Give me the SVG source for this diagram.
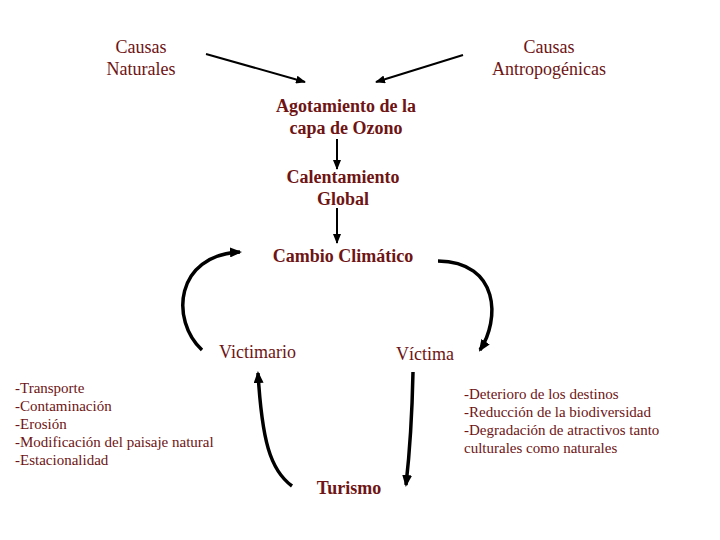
<svg xmlns="http://www.w3.org/2000/svg" width="720" height="540" viewBox="0 0 720 540">
<style>
text{font-family:'Liberation Serif','DejaVu Serif',serif;fill:#6e1414}
.n{font-size:18px}
.b{font-size:18px;font-weight:bold}
.l{font-size:15px}
.c{text-anchor:middle}
.s{stroke:#000;stroke-width:2;fill:none}
.k{stroke:#000;stroke-width:3.5;fill:none}
</style>
<defs>
<marker id="a" markerWidth="10" markerHeight="8" refX="9" refY="4" orient="auto" markerUnits="userSpaceOnUse"><path d="M0,0 L10,4 L0,8 Z" fill="#000"/></marker>
<marker id="a2" markerWidth="12" markerHeight="10" refX="10" refY="5" orient="auto" markerUnits="userSpaceOnUse"><path d="M0,0 L12,5 L0,10 Z" fill="#000"/></marker>
</defs>
<g id="connectors">
<line class="s" x1="206" y1="54" x2="305" y2="82" marker-end="url(#a)"/>
<line class="s" x1="463" y1="55" x2="376" y2="82" marker-end="url(#a)"/>
<line class="s" x1="337" y1="139" x2="337" y2="169" marker-end="url(#a)"/>
<line class="s" x1="337" y1="208" x2="337" y2="243" marker-end="url(#a)"/>
<path class="k" d="M202,350 C170,320 175,255 240,252" marker-end="url(#a2)"/>
<path class="k" d="M438,261 C500,262 500,320 480,350" marker-end="url(#a2)"/>
<path class="k" d="M292,486 C270,470 262,440 258,373" marker-end="url(#a2)"/>
<path class="k" d="M413,372 C412,420 410,450 406,485" marker-end="url(#a2)"/>
</g>
<g id="causas-naturales"><text class="n c" x="141" y="53">Causas</text><text class="n c" x="141" y="75">Naturales</text></g>
<g id="causas-antropogenicas"><text class="n c" x="549" y="53">Causas</text><text class="n c" x="549" y="75">Antropogénicas</text></g>
<g id="agotamiento"><text class="b c" x="346" y="112">Agotamiento de la</text><text class="b c" x="346" y="134">capa de Ozono</text></g>
<g id="calentamiento"><text class="b c" x="343" y="183">Calentamiento</text><text class="b c" x="343" y="205">Global</text></g>
<g id="cambio"><text class="b c" x="343" y="262">Cambio Climático</text></g>
<g id="victimario"><text class="n" x="219" y="358">Victimario</text></g>
<g id="victima"><text class="n" x="396" y="360">Víctima</text></g>
<g id="turismo"><text class="b c" x="349" y="494">Turismo</text></g>
<g id="lista-victimario">
<text class="l" x="15" y="393">-Transporte</text>
<text class="l" x="15" y="411">-Contaminación</text>
<text class="l" x="15" y="429">-Erosión</text>
<text class="l" x="15" y="447">-Modificación del paisaje natural</text>
<text class="l" x="15" y="465">-Estacionalidad</text>
</g>
<g id="lista-victima">
<text class="l" x="464" y="399">-Deterioro de los destinos</text>
<text class="l" x="464" y="417">-Reducción de la biodiversidad</text>
<text class="l" x="464" y="435">-Degradación de atractivos tanto</text>
<text class="l" x="464" y="453">culturales como naturales</text>
</g>
</svg>
